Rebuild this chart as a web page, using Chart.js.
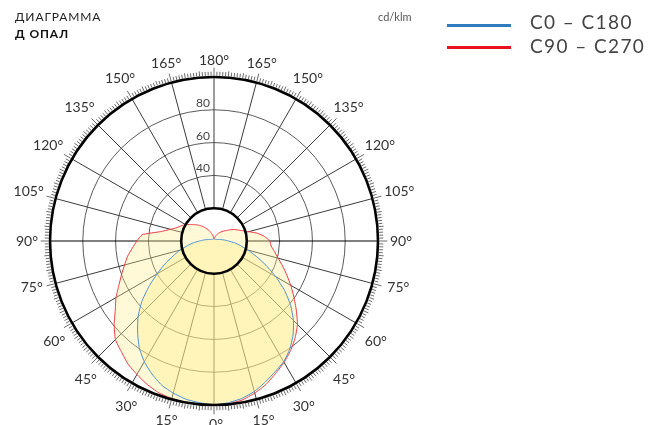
<!DOCTYPE html>
<html><head><meta charset="utf-8">
<script src="https://cdn.jsdelivr.net/npm/chart.js@4.4.1/dist/chart.umd.min.js"></script>
<style>
html,body{margin:0;padding:0;background:#fff;}
#wrap{position:relative;width:652px;height:425px;overflow:hidden;font-family:Lato,"DejaVu Sans",sans-serif;}
#c{position:absolute;left:0;top:0;}
.t1{position:absolute;left:15px;top:10px;font-size:12px;line-height:14px;color:#222;letter-spacing:0.9px;white-space:nowrap}
.t2{position:absolute;left:15px;top:27px;font-size:12px;line-height:14px;font-weight:bold;color:#111;letter-spacing:0.9px;white-space:nowrap}
.unit{position:absolute;left:378px;top:10px;font-size:11px;line-height:13px;color:#555;white-space:nowrap}
.ln{position:absolute;left:447px;width:64px;height:3px}
.lt{position:absolute;left:530px;font-size:19px;line-height:23px;color:#444;letter-spacing:1.4px;white-space:nowrap}
</style></head>
<body><div id="wrap">
<canvas id="c" width="652" height="425"></canvas>
<div class="t1">ДИАГРАММА</div>
<div class="t2">Д ОПАЛ</div>
<div class="unit">cd/klm</div>
<div class="ln" style="top:24px;background:#2f7bc0"></div>
<div class="lt" style="top:10px">C0 – C180</div>
<div class="ln" style="top:46px;background:#e8101e"></div>
<div class="lt" style="top:34px">C90 – C270</div>
</div>
<script>
// gamma angles (deg), 0 = straight down
const gamma = [0,5,10,15,20,25,30,35,40,45,50,55,60,65,70,75,80,85,90,95,100,105,110,115,120,125,130,135,140,145,150,155,160,165,170,175,180];
// cd/klm
const c0   = [100,99,97.5,95,91.5,88,85,80.5,75,68.5,61,52.5,43.5,35,27.5,21.5,16.5,12.7,8.8,6.5,4.8,3.5,2.7,2.2,1.9,1.7,1.6,1.5,1.4,1.35,1.3,1.28,1.25,1.22,1.2,1.2,1.2];
const c180 = [100,99,98,96,93.5,89.5,85,79.5,72.5,65.5,57.5,48.5,40,33,26.5,21.5,16.5,12.7,8.8,6.5,4.8,3.5,2.7,2.2,1.9,1.7,1.6,1.5,1.4,1.35,1.3,1.28,1.25,1.22,1.2,1.2,1.2];
const c90  = [100,99.7,98.5,96,93,89,85.5,81.5,77,72,65.5,59.5,54,49,44.5,40.5,37.5,35,34,31,27,22,18.5,16,14,12,10,8.7,7.5,6.5,5.5,4.5,3.5,2.7,2,1.5,1.2];
const c270 = [100,100,100,99.5,98.5,96.5,94,91.5,88,85,79.5,73.5,69,64,60,56.5,53.5,50,47,44,33,27.5,24,22,20,17.5,15.5,13.8,12,10.2,8.5,7,5.5,4.2,3,2,1.2];
const ringValues = [40,60,80];
const innerRing = 20, outerRing = 100;
const angleStep = 15;

const rad = d => d*Math.PI/180;
function shape(left, right){
  const pts = [];
  for (let i = gamma.length-1; i >= 0; i--) pts.push({x:-left[i]*Math.sin(rad(gamma[i])), y:-left[i]*Math.cos(rad(gamma[i]))});
  for (let i = 1; i < gamma.length; i++) pts.push({x:right[i]*Math.sin(rad(gamma[i])), y:-right[i]*Math.cos(rad(gamma[i]))});
  return pts;
}

const polarGrid = {
  id:'polarGrid',
  geo(chart){
    const xs = chart.scales.x, ys = chart.scales.y;
    const cx = xs.getPixelForValue(0), cy = ys.getPixelForValue(0);
    const k = (xs.getPixelForValue(100)-cx)/100;
    return {cx,cy,k};
  },
  beforeDatasetsDraw(chart){
    const {ctx} = chart; const {cx,cy,k} = this.geo(chart);
    ctx.save();
    ctx.lineWidth = 1; ctx.strokeStyle = '#5a5a5a';
    ringValues.forEach(v=>{ctx.beginPath();ctx.arc(cx,cy,v*k,0,2*Math.PI);ctx.stroke();});
    for (let a = 0; a < 360; a += angleStep){
      const dx = Math.sin(rad(a)), dy = Math.cos(rad(a));
      ctx.strokeStyle = (a===90||a===270) ? '#000' : '#3a3a3a';
      ctx.beginPath();
      ctx.moveTo(cx+dx*innerRing*k, cy+dy*innerRing*k);
      ctx.lineTo(cx+dx*outerRing*k, cy+dy*outerRing*k);
      ctx.stroke();
    }
    ctx.restore();
  },
  afterDatasetsDraw(chart){
    const {ctx} = chart; const {cx,cy,k} = this.geo(chart);
    const R = outerRing*k;
    ctx.save();
    ctx.strokeStyle = '#000'; ctx.lineWidth = 2.6;
    ctx.beginPath(); ctx.arc(cx,cy,innerRing*k,0,2*Math.PI); ctx.stroke();
    ctx.beginPath(); ctx.arc(cx,cy,R,0,2*Math.PI); ctx.stroke();
    ctx.lineWidth = 0.8; ctx.strokeStyle = '#444';
    for (let d = 0; d < 360; d++){
      const len = d%15===0 ? 8 : (d%5===0 ? 5 : 4);
      const dx = Math.sin(rad(d)), dy = Math.cos(rad(d));
      ctx.beginPath();
      ctx.moveTo(cx+dx*(R+1.3), cy+dy*(R+1.3));
      ctx.lineTo(cx+dx*(R+1.3+len), cy+dy*(R+1.3+len));
      ctx.stroke();
    }
    // angle labels
    ctx.fillStyle = '#333'; ctx.font = '14px Lato'; ctx.textAlign='center'; ctx.textBaseline='alphabetic';
    const capH = 10;
    for (let a = 0; a < 360; a += angleStep){
      const g = a<=180 ? a : 360-a;
      const lab = g + '°';
      const w = ctx.measureText(lab).width;
      let sh = 0;
      if (g>=30 && g<=60) sh = 1.8; else if (g===75) sh = -1;
      const dir = a<=180 ? a - sh : a + sh;
      const dx = Math.sin(rad(dir)), dy = Math.cos(rad(dir));
      const dist = R + 12 + Math.abs(dx)*w/2 + Math.abs(dy)*capH/2;
      const px = cx + dx*dist + (a<180 && dy>0.1 ? 2 : 0), py = cy + dy*dist + (dy>0.1 ? 2*dy : 0);
      ctx.fillText(lab, px, py + capH/2);
    }
    // ring labels
    ctx.font = '12px Lato'; ctx.fillStyle='#444'; ctx.textAlign='right';
    ringValues.forEach(v=>{ ctx.fillText(String(v), cx-4, cy - v*k - 3); });
    ctx.restore();
  }
};

new Chart(document.getElementById('c'), {
  type:'scatter',
  data:{datasets:[
    {label:'C0 – C180', data:shape(c180,c0), showLine:true, borderColor:'#4a8fd0', borderWidth:1, pointRadius:0, tension:0.15, fill:'shape', backgroundColor:'rgba(255,236,140,0.38)'},
    {label:'C90 – C270', data:shape(c270,c90), showLine:true, borderColor:'#ee3a44', borderWidth:1, pointRadius:0, tension:0.15, fill:'shape', backgroundColor:'rgba(255,236,140,0.34)'}
  ]},
  options:{
    responsive:false, animation:false, devicePixelRatio:1,
    layout:{padding:{left:50,right:274,top:77,bottom:20}},
    scales:{x:{display:false,min:-100,max:100},y:{display:false,min:-100,max:100}},
    plugins:{legend:{display:false},tooltip:{enabled:false},title:{display:false}}
  },
  plugins:[polarGrid]
});
</script>
</body></html>
